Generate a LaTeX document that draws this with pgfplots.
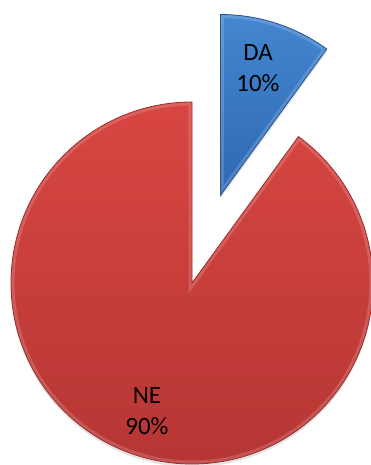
\documentclass[border=0pt]{standalone}
\usepackage{pgfplots}
\pgfplotsset{compat=1.18}
\usepackage{pgfplotstable}
\usepackage{fontspec}
\setmainfont{Carlito}
\pgfplotstableread{
label value
DA 10
NE 90
}\piedata
\definecolor{redtop}{RGB}{216,70,66}
\definecolor{redbot}{RGB}{182,54,52}
\definecolor{rededge}{RGB}{158,42,42}
\definecolor{bluetop}{RGB}{68,134,208}
\definecolor{bluebot}{RGB}{46,104,178}
\definecolor{blueedge}{RGB}{36,84,148}
\newcommand{\pieslice}[4]{(axis cs:#1,#2) -- ++(#3:181bp) arc[start angle=#3, end angle=#4, radius=181bp] -- cycle}
\begin{document}
\begin{tikzpicture}
\pgfplotstablegetelem{0}{value}\of\piedata \let\vda\pgfplotsretval
\pgfplotstablegetelem{1}{value}\of\piedata \let\vne\pgfplotsretval
\pgfmathsetmacro{\total}{\vda+\vne}
\pgfmathsetmacro{\ada}{\vda/\total*360}
\pgfmathsetmacro{\dastart}{90-\ada}
\pgfmathsetmacro{\damid}{90-\ada/2}
\pgfmathsetmacro{\neend}{90+\vne/\total*360}
\pgfmathsetmacro{\bx}{192+92*cos(\damid)}
\pgfmathsetmacro{\by}{182+92*sin(\damid)}
\begin{axis}[width=371bp, height=465bp, scale only axis,
  xmin=0, xmax=371, ymin=0, ymax=465, hide axis, clip=true]
\coordinate (LL) at (axis cs:0,0);
\coordinate (UR) at (axis cs:371,465);
% shadows
\fill[black, opacity=0.10] \pieslice{192}{179}{90}{\neend};
\fill[black, opacity=0.10] \pieslice{\bx}{\by-3}{\dastart}{90};
% NE slice
\shade[top color=redtop, bottom color=redbot] \pieslice{192}{182}{90}{\neend};
\begin{scope}
\clip \pieslice{192}{182}{90}{\neend};
\draw[line width=7bp, white, opacity=0.16] \pieslice{192}{182}{90}{\neend};
\end{scope}
\draw[line width=0.8bp, rededge] \pieslice{192}{182}{90}{\neend};
% DA slice
\shade[top color=bluetop, bottom color=bluebot] \pieslice{\bx}{\by}{\dastart}{90};
\begin{scope}
\clip \pieslice{\bx}{\by}{\dastart}{90};
\draw[line width=7bp, white, opacity=0.16] \pieslice{\bx}{\by}{\dastart}{90};
\end{scope}
\draw[line width=0.8bp, blueedge] \pieslice{\bx}{\by}{\dastart}{90};
% labels
\node[align=center, font=\fontsize{25}{31}\selectfont, text=black] at (axis cs:258,397) {DA\\10\%};
\node[align=center, font=\fontsize{25}{31}\selectfont, text=black] at (axis cs:147,54) {NE\\90\%};
\end{axis}
\pgfresetboundingbox
\path (LL) rectangle (UR);
\end{tikzpicture}
\end{document}
